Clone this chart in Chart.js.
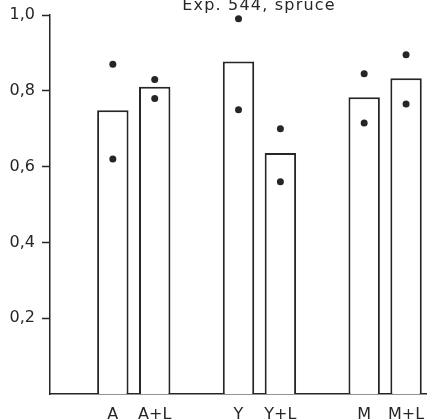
<!DOCTYPE html>
<html>
<head>
<meta charset="utf-8">
<script src="https://cdn.jsdelivr.net/npm/chart.js@4"></script>
<style>
  html, body { margin: 0; padding: 0; background: #fff; overflow: hidden; }
  #wrap { width: 427px; height: 420px; }
  canvas { display: block; }
</style>
</head>
<body>
<div id="wrap"><canvas id="spruceChart"></canvas></div>
<script>
// groups of treatments, a blank slot goes before each group
var groups = [["A", "A+L"], ["Y", "Y+L"], ["M", "M+L"]];
var barValues  = [0.749, 0.811, 0.877, 0.636, 0.783, 0.833];
var highValues = [0.87, 0.83, 0.99, 0.70, 0.845, 0.895];
var lowValues  = [0.62, 0.78, 0.75, 0.56, 0.715, 0.765];
var yTicks = [0.2, 0.4, 0.6, 0.8, 1.0];
var titleText = "Exp. 544, spruce";

var ink = "#262626";

// spread the series over the slots, with gaps between groups
var labels = [], bars = [], highs = [], lows = [];
var k = 0;
groups.forEach(function(g) {
    labels.push(""); bars.push(null); highs.push(null); lows.push(null);
    g.forEach(function(name) {
        labels.push(name);
        bars.push(barValues[k]);
        highs.push(highValues[k]);
        lows.push(lowValues[k]);
        k++;
    });
});

var titlePlugin = {
    id: "topTitle",
    afterDraw: function(chart) {
        var c = chart.ctx;
        c.save();
        c.font = "16px 'DejaVu Sans'";
        c.letterSpacing = "1.2px";
        c.fillStyle = ink;
        c.textAlign = "center";
        c.textBaseline = "middle";
        c.fillText(titleText, 259, 6);
        c.restore();
    }
};

var dotStyle = {
    type: "line",
    showLine: false,
    pointRadius: 3.5,
    pointBackgroundColor: ink,
    pointBorderWidth: 0,
    borderColor: ink,
    order: 0
};

var ctx = document.getElementById("spruceChart").getContext("2d");
var myChart = new Chart(ctx, {
    data: {
        labels: labels,
        datasets: [
            Object.assign({ data: highs }, dotStyle),
            Object.assign({ data: lows }, dotStyle),
            {
                type: "bar",
                data: bars,
                backgroundColor: "#fff",
                borderColor: ink,
                borderWidth: 2,
                barPercentage: 0.75,
                categoryPercentage: 1,
                order: 1
            }
        ]
    },
    options: {
        responsive: true,
        maintainAspectRatio: false,
        animation: false,
        layout: { autoPadding: false, padding: { top: 15, right: 0, left: 0, bottom: 0 } },
        scales: {
            x: {
                grid: { display: false, drawTicks: false },
                border: { display: true, color: ink, width: 1.5 },
                afterFit: function(scale) {
                    scale.height = 26;
                    scale.paddingLeft = 0;
                    scale.paddingRight = 0;
                },
                ticks: {
                    color: ink,
                    padding: 11,
                    maxRotation: 0,
                    autoSkip: false,
                    font: { family: "DejaVu Sans", size: 16 }
                }
            },
            y: {
                min: 0,
                max: 1,
                afterFit: function(scale) {
                    scale.width = 50;
                    scale.paddingTop = 0;
                    scale.paddingBottom = 0;
                },
                afterBuildTicks: function(scale) {
                    scale.ticks = yTicks.map(function(v) { return { value: v }; });
                },
                grid: {
                    drawOnChartArea: false,
                    drawTicks: true,
                    tickLength: 8,
                    tickColor: ink,
                    tickWidth: 1.5
                },
                border: { display: true, color: ink, width: 1.5 },
                ticks: {
                    color: ink,
                    padding: 7,
                    font: { family: "DejaVu Sans", size: 16 },
                    callback: function(val) {
                        return val.toFixed(1).replace(".", ",");
                    }
                }
            }
        },
        plugins: {
            legend: { display: false },
            tooltip: { enabled: false },
            title: { display: false }
        }
    },
    plugins: [titlePlugin]
});
</script>
</body>
</html>
